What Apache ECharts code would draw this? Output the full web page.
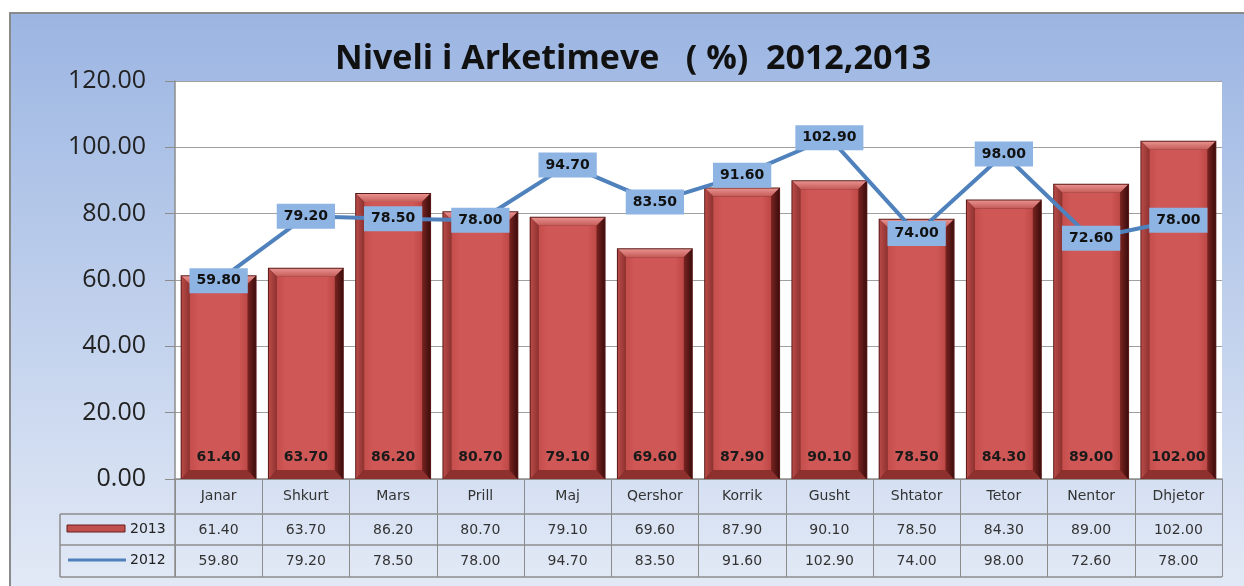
<!DOCTYPE html>
<html lang="sq">
<head>
<meta charset="UTF-8">
<title>Niveli i Arketimeve</title>
<script src="https://cdn.jsdelivr.net/npm/echarts@6/dist/echarts.min.js"></script>
<style>
  html, body { margin: 0; padding: 0; background: #fff; }
  #main { width: 1244px; height: 586px; }
</style>
</head>
<body>
<div id="main"></div>
<script type="text/javascript">
// te dhenat
var muajt = ['Janar', 'Shkurt', 'Mars', 'Prill', 'Maj', 'Qershor', 'Korrik', 'Gusht', 'Shtator', 'Tetor', 'Nentor', 'Dhjetor'];
var vlera2013 = [61.40, 63.70, 86.20, 80.70, 79.10, 69.60, 87.90, 90.10, 78.50, 84.30, 89.00, 102.00];
var vlera2012 = [59.80, 79.20, 78.50, 78.00, 94.70, 83.50, 91.60, 102.90, 74.00, 98.00, 72.60, 78.00];
var yTicks = [0, 20, 40, 60, 80, 100, 120];

var fmt = function (v) { return Number(v).toFixed(2); };
var gridColor = '#8c8c8c';
var tableFont = 'DejaVu Sans';

var myChart = echarts.init(document.getElementById('main'));

// shtyllat me efekt relievi
function renderBar(params, api) {
    var i = api.value(0), v = api.value(1);
    var top = api.coord([i, v]);
    var base = api.coord([i, 0]);
    var w = api.size([1, 0])[0] * 0.87;
    var x0 = top[0] - w / 2, x1 = x0 + w, y0 = top[1], y1 = base[1];
    var b = 9;
    return {
        type: 'group',
        children: [
            { type: 'rect', shape: { x: x0, y: y0, width: w, height: y1 - y0 }, style: { fill: '#5a1a18' } },
            { type: 'polygon', shape: { points: [[x0 + 1, y0 + 1], [x1 - 1, y0 + 1], [x1 - b, y0 + b], [x0 + b, y0 + b]] },
              style: { fill: new echarts.graphic.LinearGradient(0, 0, 0, 1, [{ offset: 0, color: '#e8918e' }, { offset: 1, color: '#c45b58' }]) } },
            { type: 'polygon', shape: { points: [[x0 + 1, y0 + 1], [x0 + b, y0 + b], [x0 + b, y1 - b], [x0 + 1, y1]] },
              style: { fill: new echarts.graphic.LinearGradient(0, 0, 1, 0, [{ offset: 0, color: '#b84a47' }, { offset: 1, color: '#8e3230' }]) } },
            { type: 'polygon', shape: { points: [[x1 - 1, y0 + 1], [x1 - 1, y1], [x1 - b, y1 - b], [x1 - b, y0 + b]] },
              style: { fill: new echarts.graphic.LinearGradient(0, 0, 1, 0, [{ offset: 0, color: '#7a2421' }, { offset: 1, color: '#3e0e0d' }]) } },
            { type: 'polygon', shape: { points: [[x0 + 1, y1], [x1 - 1, y1], [x1 - b, y1 - b], [x0 + b, y1 - b]] }, style: { fill: '#8e302e' } },
            { type: 'rect', shape: { x: x0 + b, y: y0 + b, width: w - 2 * b, height: y1 - y0 - 2 * b },
              style: { fill: new echarts.graphic.LinearGradient(0, 0, 1, 0, [{ offset: 0, color: '#c44e4c' }, { offset: 0.15, color: '#cf5755' }, { offset: 0.85, color: '#cf5755' }, { offset: 1, color: '#bc4846' }]) } },
            { type: 'text', style: { text: fmt(v), x: top[0], y: y1 - 22, align: 'center', verticalAlign: 'middle', font: 'bold 14px "DejaVu Sans"', fill: '#1a1a1a' } }
        ]
    };
}

var rowAxis = function (values, offset, tickLen) {
    return {
        type: 'category',
        data: values.map(fmt),
        position: 'bottom',
        offset: offset,
        gridIndex: 0,
        axisLine: { show: false },
        axisTick: { show: true, length: tickLen, lineStyle: { color: gridColor } },
        axisLabel: { interval: 0, margin: 9, fontFamily: tableFont, fontSize: 14, color: '#333' },
        splitLine: { show: false }
    };
};

option = {
    backgroundColor: '#fff',
    animation: false,
    title: {
        text: 'Niveli i Arketimeve   ( %)  2012,2013',
        left: 330,
        top: 37,
        textStyle: { fontFamily: 'Open Sans', fontWeight: 'bold', fontSize: 34, color: '#111' }
    },
    graphic: [
        {
            type: 'rect', z: -10, silent: true,
            shape: { x: 10, y: 13, width: 1240, height: 580 },
            style: {
                stroke: '#8a8a8a', lineWidth: 2,
                fill: new echarts.graphic.LinearGradient(0, 0, 0, 1, [
                    { offset: 0, color: '#9bb5e2' },
                    { offset: 1, color: '#e3eaf6' }
                ])
            }
        },
        // vijat e tabeles
        { type: 'line', silent: true, shape: { x1: 60, y1: 514, x2: 1222, y2: 514 }, style: { stroke: gridColor, lineWidth: 1.5 } },
        { type: 'line', silent: true, shape: { x1: 60, y1: 545, x2: 1222, y2: 545 }, style: { stroke: gridColor, lineWidth: 1.5 } },
        { type: 'line', silent: true, shape: { x1: 60, y1: 577, x2: 1222, y2: 577 }, style: { stroke: gridColor, lineWidth: 1.5 } },
        { type: 'line', silent: true, shape: { x1: 60, y1: 514, x2: 60, y2: 577 }, style: { stroke: gridColor, lineWidth: 1.5 } },
        { type: 'line', silent: true, shape: { x1: 175, y1: 479, x2: 175, y2: 577 }, style: { stroke: gridColor, lineWidth: 1.5 } },
        // legjenda
        { type: 'rect', silent: true, shape: { x: 67, y: 525, width: 58, height: 7 }, style: { fill: '#c0504d', stroke: '#6a1f1d', lineWidth: 1 } },
        { type: 'text', silent: true, style: { text: '2013', x: 130, y: 529, verticalAlign: 'middle', font: '14px "DejaVu Sans"', fill: '#222' } },
        { type: 'line', silent: true, shape: { x1: 68, y1: 560, x2: 126, y2: 560 }, style: { stroke: '#4f81bd', lineWidth: 3 } },
        { type: 'text', silent: true, style: { text: '2012', x: 130, y: 560, verticalAlign: 'middle', font: '14px "DejaVu Sans"', fill: '#222' } }
    ],
    grid: {
        left: 175, right: 22, top: 81, bottom: 107,
        show: true, backgroundColor: '#ffffff', borderWidth: 0
    },
    xAxis: [
        {
            type: 'category',
            data: muajt,
            position: 'bottom',
            axisLine: { show: true, lineStyle: { color: gridColor, width: 1.5 } },
            axisTick: { show: true, length: 35, lineStyle: { color: gridColor } },
            axisLabel: { interval: 0, margin: 10, fontFamily: tableFont, fontSize: 14, color: '#333' },
            splitLine: { show: false }
        },
        rowAxis(vlera2013, 35, 31),
        rowAxis(vlera2012, 66, 32)
    ],
    yAxis: {
        type: 'value',
        min: yTicks[0],
        max: yTicks[yTicks.length - 1],
        interval: yTicks[1] - yTicks[0],
        axisLine: { show: true, lineStyle: { color: gridColor, width: 1.5 } },
        axisTick: { show: true, inside: false, length: 10, lineStyle: { color: gridColor } },
        axisLabel: { margin: 29, fontFamily: 'Open Sans', fontSize: 25, color: '#222', formatter: fmt },
        splitLine: { show: true, lineStyle: { color: '#a0a0a0', width: 1.2 } }
    },
    series: [
        {
            name: '2013',
            type: 'custom',
            renderItem: renderBar,
            encode: { x: 0, y: 1 },
            data: vlera2013.map(function (v, i) { return [i, v]; }),
            z: 2
        },
        {
            name: '2012',
            type: 'line',
            data: vlera2012,
            z: 5,
            symbol: 'circle',
            symbolSize: 2,
            itemStyle: { color: '#4f81bd' },
            lineStyle: { color: '#4f81bd', width: 4 },
            label: {
                show: true,
                position: 'inside',
                formatter: function (p) { return fmt(p.value); },
                backgroundColor: '#8db4e2',
                padding: [6, 7, 5, 7],
                fontFamily: 'DejaVu Sans',
                fontWeight: 'bold',
                fontSize: 14,
                color: '#111'
            }
        }
    ]
};

myChart.setOption(option);
</script>
</body>
</html>
